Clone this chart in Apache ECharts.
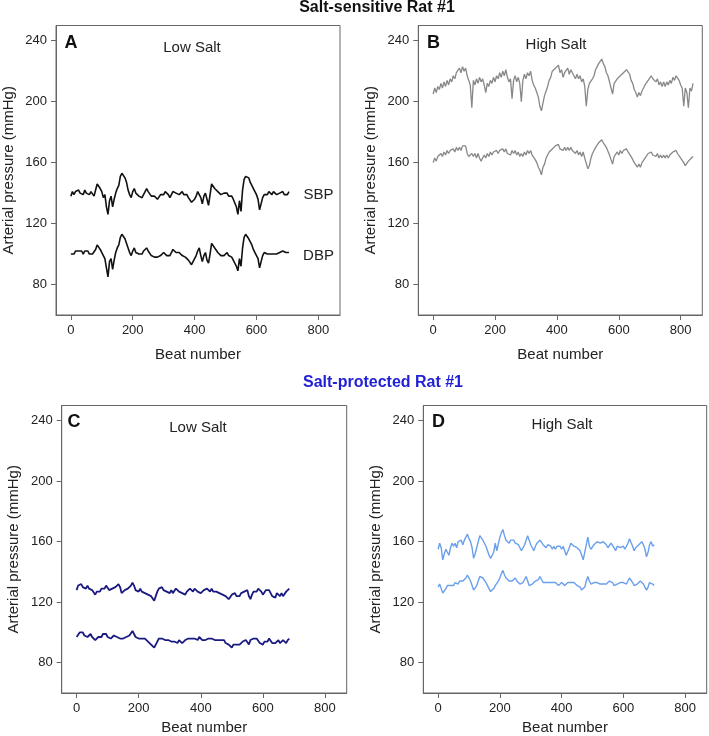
<!DOCTYPE html>
<head>
    <meta charset="utf-8"/>
    <style>
        html,body { height:100%; width:100%; margin:0; padding:0; background:#fff;}
    </style>
</head>
<body>
<div id="main" style="width:709px;height:736px"></div>

<script src="https://cdn.jsdelivr.net/npm/echarts@6/dist/echarts.min.js"></script>
<script type="text/javascript">

 // beat spacing of the sampled values
 var beatStep = 5;
 var xTicks = [0, 200, 400, 600, 800];
 var yTicks = [80, 120, 160, 200, 240];

 // A: salt-sensitive, low salt
 var sbpA = [138,141,139,141,140,142,140,141,139,142,140,141,139,141,140,138,142,146,145,143,
     141,137,139,131,126,135,138,131,136,140,143,145,151,153,154,150,147,142,139,137,
     141,143,140,141,138,139,137,139,141,143,141,140,138,139,138,137,136,137,139,140,
     139,141,140,139,137,139,141,142,140,141,139,140,141,139,138,139,137,136,134,133,
     136,138,141,142,137,133,138,140,136,132,139,146,145,143,142,141,140,139,138,140,
     139,140,138,137,138,136,135,131,126,135,128,142,149,151,152,150,147,145,143,141,
     139,136,129,130,137,139,140,139,141,140,139,141,140,139,138,140,139,141,139,140,
     139,141];
 var dbpA = [100,101,100,102,101,102,101,102,100,102,101,102,100,101,100,99,103,106,105,103,
     102,99,97,91,85,95,97,90,96,101,104,106,111,113,112,110,107,104,101,99,
     102,104,101,102,100,101,100,102,103,104,102,101,99,100,98,97,98,97,99,100,
     101,100,99,100,99,101,103,103,101,100,101,100,99,100,98,98,96,95,93,93,
     97,99,102,104,99,95,99,101,96,94,100,107,106,104,103,101,100,99,100,99,
     100,101,99,98,98,96,95,92,89,97,92,104,111,113,112,110,108,106,103,101,
     99,97,91,92,99,101,102,100,101,100,101,100,101,100,99,101,100,102,103,101,
     100,101];

 // B: salt-sensitive, high salt
 var sbpB = [205,209,206,210,208,212,209,213,210,214,211,215,213,217,215,219,218,222,219,223,
     220,222,217,214,211,196,214,211,215,212,216,213,215,211,206,212,210,214,212,216,
     213,217,215,219,216,220,217,221,216,213,215,202,214,217,213,216,212,200,214,218,
     215,219,217,220,214,211,209,206,203,197,194,199,204,207,210,214,216,220,219,222,
     221,224,219,221,216,219,218,222,218,221,219,220,215,218,215,217,213,215,210,197,
     208,212,211,215,217,221,222,225,224,228,225,223,219,217,213,209,205,212,211,215,
     214,217,216,219,218,221,220,218,214,212,208,206,203,206,204,207,208,211,210,214,
     213,217,215,216,213,215,211,213,210,213,210,213,211,214,212,216,214,217,216,214,
     211,209,197,209,206,196,209,207,212];
 var dbpB = [160,163,161,164,163,166,164,167,165,168,166,168,167,169,167,170,168,170,168,171,
     170,171,166,164,163,166,164,166,163,166,163,161,163,165,163,166,164,167,165,167,
     166,168,166,168,167,169,167,169,166,167,165,168,166,168,165,167,164,166,164,167,
     165,168,166,168,165,164,162,160,157,155,152,157,159,163,164,167,166,169,169,171,
     170,172,169,170,168,170,168,170,168,170,168,169,166,168,165,167,164,167,163,164,
     156,158,163,166,168,170,171,173,172,175,173,174,170,169,165,162,159,164,164,167,
     165,168,166,168,167,169,167,166,164,163,160,159,157,159,157,160,161,163,163,166,
     165,167,165,166,164,166,163,165,163,165,163,165,163,165,164,167,166,168,166,165,
     163,162,160,158,159,161,160,163,164];

 // C: salt-protected, low salt
 var sbpC = [128,131,130,132,130,131,129,131,129,130,128,127,125,127,128,127,129,130,129,131,
     130,128,127,129,128,130,129,132,130,126,125,128,127,129,128,131,133,131,128,129,
     127,129,127,128,126,127,125,126,124,123,121,124,127,129,128,130,128,129,127,128,
     126,128,126,127,129,128,127,128,126,127,125,127,128,129,128,127,129,128,127,128,
     126,127,128,127,129,128,127,129,127,128,127,128,126,127,125,126,124,125,122,123,
     125,124,126,124,125,124,126,125,127,126,128,124,122,125,127,128,127,129,128,127,
     125,126,128,127,128,126,124,125,123,126,125,124,126,124,125,127,126,129];
 var dbpC = [97,98,100,99,100,98,99,97,98,99,97,96,95,96,97,98,97,99,98,99,
     97,96,96,97,98,99,97,98,96,95,96,95,97,96,98,99,101,99,97,98,
     96,97,96,95,96,95,94,93,92,91,90,92,94,96,97,96,97,95,96,95,
     96,94,95,94,95,93,95,94,93,94,95,94,96,95,96,97,96,97,95,97,
     96,95,94,95,94,96,95,96,97,95,96,95,96,95,94,95,93,94,92,91,
     90,92,93,92,93,92,93,94,93,95,94,92,95,94,96,95,96,95,93,94,
     92,94,95,94,96,95,93,92,93,94,95,93,94,95,94,93,95,96];

 // D: salt-protected, high salt
 var sbpD = [155,159,156,148,152,155,153,151,156,159,157,159,156,160,159,161,158,161,163,165,
     162,160,156,149,152,156,160,164,163,161,159,157,154,151,149,148,153,159,154,153,
     163,166,168,164,161,160,159,161,160,161,159,160,158,157,154,153,158,161,164,161,
     158,156,154,157,159,158,161,160,158,157,156,158,157,157,155,157,155,157,158,157,
     155,157,154,151,150,156,159,158,157,158,156,155,154,151,148,147,158,163,157,155,
     156,158,157,160,161,159,158,160,160,158,156,155,159,158,156,154,157,158,156,156,
     157,155,157,159,162,162,157,154,156,157,158,159,160,158,155,150,153,158,160,157,
     158];
 var dbpD = [130,132,133,126,125,129,131,130,131,132,131,133,133,132,134,133,134,135,136,138,
     136,134,131,128,129,131,134,137,138,136,135,133,131,129,127,126,129,131,130,134,
     136,139,141,138,136,135,134,135,134,135,136,134,133,132,131,133,135,137,134,131,
     130,132,133,134,133,135,137,135,133,132,133,132,133,134,133,132,133,132,131,132,
     133,132,131,132,133,134,133,134,133,132,131,130,130,128,127,130,134,137,134,132,
     132,133,134,133,133,132,131,132,131,132,133,134,134,133,131,130,132,133,133,132,
     133,132,132,134,136,136,133,131,131,132,133,134,134,132,130,128,130,133,134,132,
     131];

 var fontFam = 'Liberation Sans, Arial, sans-serif';

 function pairs(arr){
     var out = [];
     for (var i = 0; i < arr.length; i++) out.push([i * beatStep, arr[i]]);
     return out;
 }

 // panel boxes in pixels
 var boxes = [
     {left: 55.7, top: 25.5, width: 284.3, height: 289.5, gap: 32},
     {left: 418.3, top: 25.5, width: 284, height: 289.5, gap: 32},
     {left: 61.7, top: 405.5, width: 285, height: 289.5, gap: 27},
     {left: 423.3, top: 405.5, width: 283.4, height: 289.5, gap: 27}
 ];

 var grids = [], xAxes = [], yAxes = [];
 boxes.forEach(function(b, i){
     grids.push({left: b.left, top: b.top, width: b.width, height: b.height,
         show: true, borderColor: '#666', borderWidth: 1, backgroundColor: 'transparent'});
     xAxes.push({
         type: 'value', gridIndex: i, min: -48, max: 870,
         name: 'Beat number', nameLocation: 'middle', nameGap: b.gap,
         nameTextStyle: {fontSize: 15, color: '#222', fontFamily: fontFam},
         axisLine: {show: true, onZero: false, lineStyle: {color: '#666'}},
         axisTick: {show: true, length: 5, lineStyle: {color: '#666'}, customValues: xTicks},
         axisLabel: {fontSize: 13, color: '#222', fontFamily: fontFam, margin: 9, customValues: xTicks},
         splitLine: {show: false}
     });
     yAxes.push({
         type: 'value', gridIndex: i, min: 60, max: 250,
         name: 'Arterial pressure (mmHg)', nameLocation: 'middle', nameGap: 40,
         nameTextStyle: {fontSize: 15, color: '#222', fontFamily: fontFam},
         axisLine: {show: true, onZero: false, lineStyle: {color: '#666'}},
         axisTick: {show: true, length: 5, lineStyle: {color: '#666'}, customValues: yTicks},
         axisLabel: {fontSize: 13, color: '#222', fontFamily: fontFam, margin: 9, customValues: yTicks},
         splitLine: {show: false}
     });
 });

 function line(data, idx, color, w){
     return {type: 'line', xAxisIndex: idx, yAxisIndex: idx, data: pairs(data),
         symbol: 'none', silent: true, lineStyle: {color: color, width: w}};
 }

 function txt(s, x, y, size, weight, color){
     return {type: 'text', x: x, y: y, silent: true,
         style: {text: s, fontSize: size, fontWeight: weight, fontFamily: fontFam,
             fill: color || '#111', align: 'center', verticalAlign: 'middle'}};
 }

 var option = {
     animation: false,
     grid: grids,
     xAxis: xAxes,
     yAxis: yAxes,
     series: [
         line(sbpA, 0, '#111', 1.6), line(dbpA, 0, '#111', 1.6),
         line(sbpB, 1, '#888', 1.3), line(dbpB, 1, '#888', 1.3),
         line(sbpC, 2, '#1a1a80', 1.8), line(dbpC, 2, '#1a1a80', 1.8),
         line(sbpD, 3, '#6a9fec', 1.4), line(dbpD, 3, '#6a9fec', 1.4)
     ],
     graphic: [
         txt('Salt-sensitive Rat #1', 377, 8, 16, 'bold', '#111'),
         txt('Salt-protected Rat #1', 383, 383, 16, 'bold', '#2222d4'),
         txt('A', 71, 43, 18, 'bold'), txt('Low Salt', 192, 48, 15, 'normal', '#222'),
         txt('B', 433.5, 43, 18, 'bold'), txt('High Salt', 556, 45, 15, 'normal', '#222'),
         txt('C', 74, 422, 18, 'bold'), txt('Low Salt', 198, 428, 15, 'normal', '#222'),
         txt('D', 438.5, 422, 18, 'bold'), txt('High Salt', 562, 425, 15, 'normal', '#222'),
         txt('SBP', 318.5, 194.5, 15, 'normal', '#222'),
         txt('DBP', 318.5, 256, 15, 'normal', '#222')
     ]
 };

 var myChart = echarts.init(document.getElementById('main'));
 myChart.setOption(option);
</script>
</body>
